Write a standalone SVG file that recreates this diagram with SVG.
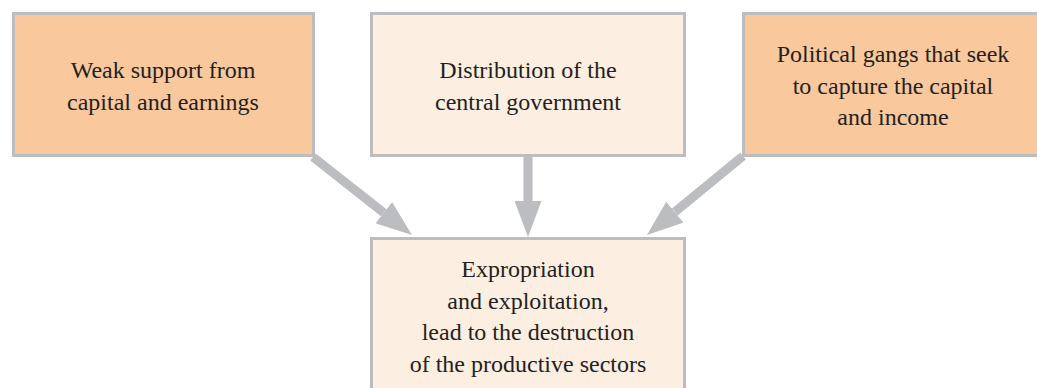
<svg xmlns="http://www.w3.org/2000/svg" width="1037" height="388" viewBox="0 0 1037 388">
  <style>
    .box { stroke: #BCBDC0; stroke-width: 3; }
    .strong { fill: #FAC89D; }
    .light { fill: #FDEEE2; }
    .label { font-family: "Liberation Serif", "Times New Roman", serif; font-size: 24px; fill: #231F20; text-anchor: middle; }
    .shaft { stroke: #BCBDC0; stroke-width: 9; fill: none; marker-end: url(#head); }
  </style>
  <defs>
    <marker id="head" viewBox="0 0 36 27" refX="0" refY="13.5" markerWidth="36" markerHeight="27" markerUnits="userSpaceOnUse" orient="auto">
      <path d="M0,0 L36,13.5 L0,27 Z" fill="#BCBDC0"/>
    </marker>
  </defs>

  <!-- arrows into the bottom box -->
  <g id="connectors">
    <line class="shaft" x1="313" y1="157" x2="383.7" y2="212.7"/>
    <line class="shaft" x1="528" y1="157" x2="528" y2="201"/>
    <line class="shaft" x1="743" y1="156" x2="674.8" y2="212.1"/>
  </g>

  <g id="weak-support">
    <rect class="box strong" x="13.5" y="13.5" width="300" height="142"/>
    <text class="label" x="163" y="78">Weak support from</text>
    <text class="label" x="163" y="110">capital and earnings</text>
  </g>

  <g id="distribution">
    <rect class="box light" x="371.5" y="13.5" width="313" height="142"/>
    <text class="label" x="528" y="78">Distribution of the</text>
    <text class="label" x="528" y="110">central government</text>
  </g>

  <g id="political-gangs">
    <rect class="box strong" x="743.5" y="13.5" width="310" height="142"/>
    <text class="label" x="893" y="62">Political gangs that seek</text>
    <text class="label" x="893" y="93.5">to capture the capital</text>
    <text class="label" x="893" y="125">and income</text>
  </g>

  <g id="expropriation">
    <rect class="box light" x="371.5" y="238.5" width="313" height="170"/>
    <text class="label" x="528" y="277">Expropriation</text>
    <text class="label" x="528" y="308.5">and exploitation,</text>
    <text class="label" x="528" y="340">lead to the destruction</text>
    <text class="label" x="528" y="371.5">of the productive sectors</text>
  </g>
</svg>
